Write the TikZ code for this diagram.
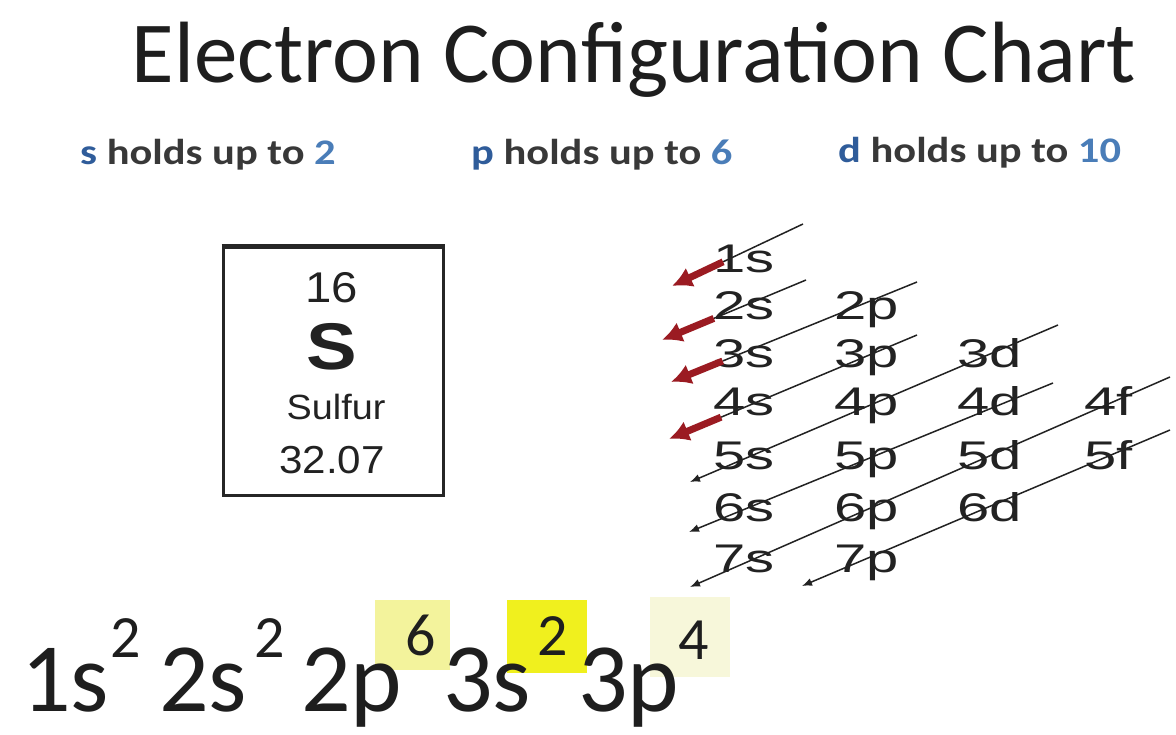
\documentclass[tikz,border=0pt]{standalone}
\usepackage{fontspec}
\setmainfont{Carlito}
\newfontfamily\arialf{Liberation Sans}
\usetikzlibrary{arrows.meta,calc}
\definecolor{titlegray}{HTML}{1E1E1E}
\definecolor{subletter}{HTML}{2F5C9A}
\definecolor{subnum}{HTML}{4A7DB8}
\definecolor{subtext}{HTML}{383838}
\definecolor{hlA}{HTML}{F3F39C}
\definecolor{hlB}{HTML}{F0F01E}
\definecolor{hlC}{HTML}{F7F7DA}
\definecolor{arrowred}{HTML}{9B1B22}
\definecolor{chartink}{HTML}{222222}
\newcommand{\orbl}[1]{\scalebox{1.45}[1]{#1}}
\newcommand{\subl}[3]{\scalebox{1.18}[1]{\textcolor{subletter}{#1} \textcolor{subtext}{#2} \textcolor{subnum}{#3}}}
\begin{document}
\begin{tikzpicture}[x=1pt,y=-1pt,
  titletext/.style={font=\fontsize{87}{96}\selectfont, text=titlegray, inner sep=0pt, anchor=base},
  subtitle/.style={font=\bfseries\fontsize{36}{40}\selectfont, inner sep=0pt, anchor=base west},
  orb/.style={font=\arialf\fontsize{40}{44}\selectfont, text=chartink, inner sep=0pt, anchor=base west},
  elemtext/.style={font=\arialf, text=chartink, inner sep=0pt, anchor=base},
  bigtext/.style={font=\fontsize{98}{104}\selectfont, text=titlegray, inner sep=0pt, anchor=base west},
  suptext/.style={font=\fontsize{60}{66}\selectfont, text=titlegray, inner sep=0pt, anchor=base west},
  hlbox/.style={draw=none, inner sep=0pt},
  diagline/.style={draw=chartink, line width=1.5pt},
  diagarrow/.style={draw=chartink, line width=1.5pt, -{Latex[length=10pt,width=8pt]}},
  redarrow/.style={draw=arrowred, line width=7pt, -{Latex[length=20pt,width=21pt]}}
]
\useasboundingbox[fill=white] (0,0) rectangle (1176,735);

% title and subtitle
\node[titletext] (title) at (634,83) {Electron Configuration Chart};
\node[subtitle] (subs) at (80,165) {\subl{s}{holds up to}{2}};
\node[subtitle] (subp) at (471,165) {\subl{p}{holds up to}{6}};
\node[subtitle] (subd) at (838,163) {\subl{d}{holds up to}{10}};

% element box
\node[draw=black!85, line width=3pt, minimum width=220pt, minimum height=247pt, inner sep=0pt] (elem) at (333,371.5) {};
\draw[black!85, line width=5pt] (elem.north west) -- (elem.north east);
\node[elemtext, font=\arialf\fontsize{43}{46}\selectfont] (anum) at (332,303) {\scalebox{1.1}[1]{16}};
\node[elemtext, font=\arialf\bfseries\fontsize{66}{70}\selectfont] (sym) at (332,370) {\scalebox{1.15}[1]{S}};
\node[elemtext, font=\arialf\fontsize{35}{38}\selectfont] (ename) at (336,420) {\scalebox{1.08}[1]{Sulfur}};
\node[elemtext, font=\arialf\fontsize{39}{42}\selectfont] (amass) at (332,473) {\scalebox{1.08}[1]{32.07}};

% orbital labels
\node[orb] (o1s) at (713,273) {\orbl{1s}};
\node[orb] (o2s) at (713,320) {\orbl{2s}};
\node[orb] (o2p) at (834,320) {\orbl{2p}};
\node[orb] (o3s) at (713,367) {\orbl{3s}};
\node[orb] (o3p) at (834,367) {\orbl{3p}};
\node[orb] (o3d) at (957,367) {\orbl{3d}};
\node[orb] (o4s) at (713,416) {\orbl{4s}};
\node[orb] (o4p) at (834,416) {\orbl{4p}};
\node[orb] (o4d) at (957,416) {\orbl{4d}};
\node[orb] (o4f) at (1084,416) {\orbl{4f}};
\node[orb] (o5s) at (713,469) {\orbl{5s}};
\node[orb] (o5p) at (834,469) {\orbl{5p}};
\node[orb] (o5d) at (957,469) {\orbl{5d}};
\node[orb] (o5f) at (1084,469) {\orbl{5f}};
\node[orb] (o6s) at (713,521) {\orbl{6s}};
\node[orb] (o6p) at (834,521) {\orbl{6p}};
\node[orb] (o6d) at (957,521) {\orbl{6d}};
\node[orb] (o7s) at (713,572) {\orbl{7s}};
\node[orb] (o7p) at (834,572) {\orbl{7p}};

% diagonal ends
\coordinate (a1) at (803,224);  \coordinate (b1) at (672,286);
\coordinate (a2) at (806,280);  \coordinate (b2) at (662,340);
\coordinate (a3) at (917,282);  \coordinate (b3) at (671,382);
\coordinate (a4) at (917,335);  \coordinate (b4) at (669,439);
\coordinate (a5) at (1058,325); \coordinate (b5) at (690,482);
\coordinate (a6) at (1053,383); \coordinate (b6) at (689,532);
\coordinate (a7) at (1170,377); \coordinate (b7) at (690,587);
\coordinate (a8) at (1170,430); \coordinate (b8) at (802,586);
\coordinate (r1) at ($(a1)!0.61!(b1)$);
\coordinate (r2) at ($(a2)!0.64!(b2)$);
\coordinate (r3) at ($(a3)!0.79!(b3)$);
\coordinate (r4) at ($(a4)!0.79!(b4)$);

% diagonals
\draw[diagline] (a1) -- (r1);
\draw[diagline] (a2) -- (r2);
\draw[diagline] (a3) -- (r3);
\draw[diagline] (a4) -- (r4);
\draw[redarrow] (r1) -- (b1);
\draw[redarrow] (r2) -- (b2);
\draw[redarrow] (r3) -- (b3);
\draw[redarrow] (r4) -- (b4);
\draw[diagarrow] (a5) -- (b5);
\draw[diagarrow] (a6) -- (b6);
\draw[diagarrow] (a7) -- (b7);
\draw[diagarrow] (a8) -- (b8);

% highlights
\node[hlbox, fill=hlA, minimum width=75pt, minimum height=70pt] (hl1) at (412.5,635) {};
\node[hlbox, fill=hlB, minimum width=80pt, minimum height=73pt] (hl2) at (547,636.5) {};
\node[hlbox, fill=hlC, minimum width=80pt, minimum height=80pt] (hl3) at (690,637) {};

% configuration
\node[bigtext] (c1) at (21,711) {1s};
\node[suptext] (e1) at (110,657) {2};
\node[bigtext] (c2) at (159,711) {2s};
\node[suptext] (e2) at (254,657) {2};
\node[bigtext] (c3) at (301,711) {2p};
\node[suptext] (e3) at (405,655) {6};
\node[bigtext] (c4) at (443,711) {3s};
\node[suptext] (e4) at (537,655) {2};
\node[bigtext] (c5) at (578,711) {3p};
\node[suptext] (e5) at (678,659) {4};
\end{tikzpicture}
\end{document}
